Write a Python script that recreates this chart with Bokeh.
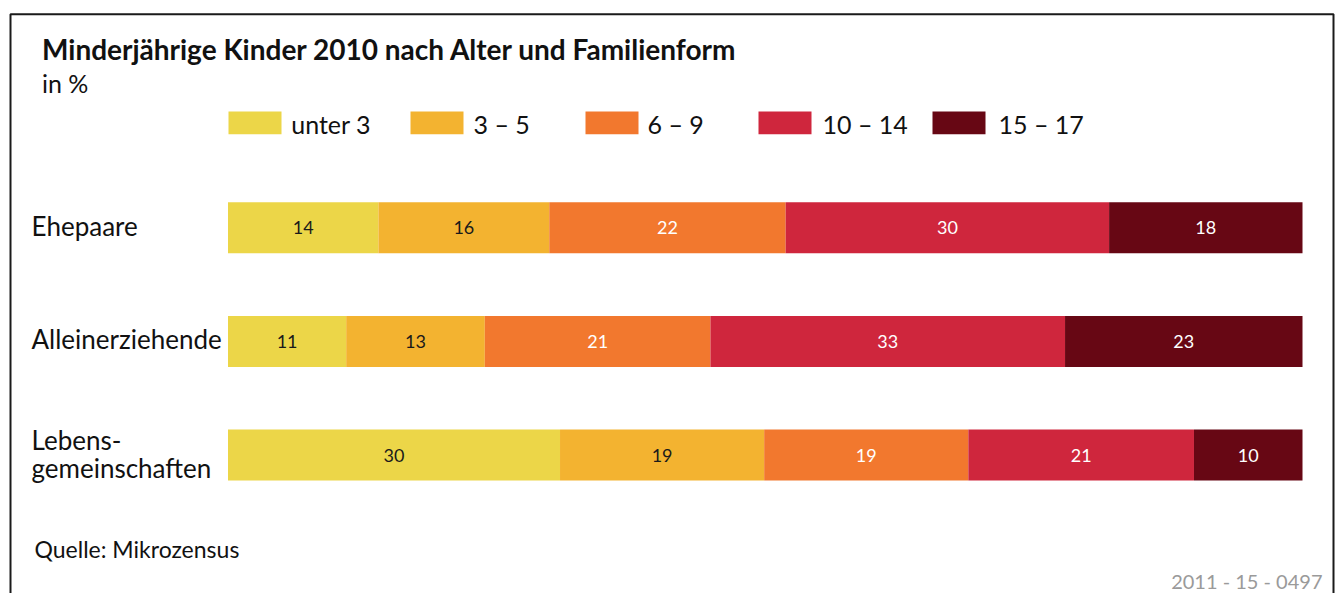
from bokeh.plotting import figure
from bokeh.models import Range1d, Label, ColumnDataSource
from bokeh.core.properties import value
from bokeh.embed import file_html
from bokeh.resources import INLINE

# ---------------- data ----------------
families = ["Ehepaare", "Alleinerziehende", "Lebensgemeinschaften"]
family_lines = [["Ehepaare"], ["Alleinerziehende"], ["Lebens-", "gemeinschaften"]]
age_groups = ["unter 3", "3 – 5", "6 – 9", "10 – 14", "15 – 17"]
colors = ["#ECD648", "#F3B330", "#F2782E", "#CF263D", "#670714"]
label_colors = ["#1a1a1a", "#1a1a1a", "#ffffff", "#ffffff", "#ffffff"]

# printed values (in %)
printed_ehepaare = [14, 16, 22, 30, 18]
printed_allein = [11, 13, 21, 33, 23]
printed_lebens = [30, 19, 19, 21, 10]
# bar lengths (in %)
share_ehepaare = [14.0, 15.9, 22.0, 30.1, 18.0]
share_allein = [11.0, 12.9, 21.0, 33.0, 22.1]
share_lebens = [30.9, 19.0, 19.0, 21.0, 10.1]

title_text = "Minderjährige Kinder 2010 nach Alter und Familienform"
subtitle_text = "in %"
source_text = "Quelle: Mikrozensus"
code_text = "2011 - 15 - 0497"

# ---------------- layout ----------------
W, H = 1338, 593
X0 = 227.5      # px of 0 %
PX = 10.745     # px per %
Y0 = 227.3      # px of first row centre
ROW = 113.6     # px per row
FONT = "Lato"


def cx(px):
    return (px - X0) / PX


def cy(py):
    return (py - Y0) / ROW


p = figure(width=W, height=H, title=None,
           x_range=Range1d(cx(0), cx(W)), y_range=Range1d(cy(H), cy(0)),
           output_backend="svg", toolbar_location=None, min_border=0,
           x_axis_location=None, y_axis_location=None)
p.outline_line_color = None
p.grid.visible = False
p.background_fill_color = "white"
p.border_fill_color = "white"

# frame border (top, left, right)
p.line(x=[cx(10), cx(10), cx(1333), cx(1333)], y=[cy(640), cy(13.8), cy(13.8), cy(640)],
       line_width=2, line_color="#1a1a1a")

shares = [share_ehepaare, share_allein, share_lebens]
printed = [printed_ehepaare, printed_allein, printed_lebens]
rows = list(range(len(families)))

for j, grp in enumerate(age_groups):
    left = [sum(shares[i][:j]) for i in rows]
    right = [sum(shares[i][:j + 1]) for i in rows]
    mid = [(a + b) / 2 for a, b in zip(left, right)]
    lab = [str(printed[i][j]) for i in rows]
    src = ColumnDataSource(dict(y=rows, left=left, right=right, mid=mid, lab=lab))
    p.hbar(y="y", left="left", right="right", height=51 / ROW, source=src,
           fill_color=colors[j], line_color=None)
    p.text(x="mid", y="y", text="lab", source=src, text_align="center",
           text_baseline="middle", text_color=label_colors[j],
           text_font=value(FONT), text_font_size="18px")


def txt(text, x, y, size, style="normal", color="#111111", align="left"):
    p.add_layout(Label(x=cx(x), y=cy(y), text=text, text_font=FONT,
                       text_font_style=style, text_font_size=size,
                       text_color=color, text_align=align,
                       text_baseline="middle"))


# title and subtitle
txt(title_text, 41.5, 48.5, "28px", style="bold")
txt(subtitle_text, 41.5, 82.5, "25px")

# legend (manual)
leg_sw_left = [228, 410, 585, 758, 932]
leg_txt_left = [290.7, 473, 647, 822, 998]
for j, grp in enumerate(age_groups):
    p.rect(x=[cx(leg_sw_left[j] + 26.5)], y=[cy(122.4)], width=53, height=22.6,
           width_units="screen", height_units="screen",
           fill_color=colors[j], line_color=None)
    txt(grp, leg_txt_left[j], 123.2, "25px")

# row labels
row_centres = [[225.6], [338.4], [439.0, 467.8]]
for i, lines in enumerate(family_lines):
    for t, yc in zip(lines, row_centres[i]):
        txt(t, 31, yc, "26px")

# source and code
txt(source_text, 34, 548, "23px")
txt(code_text, 1322, 580, "20px", color="#9a9a9a", align="right")

open("out.html", "w").write(file_html(p, INLINE))
